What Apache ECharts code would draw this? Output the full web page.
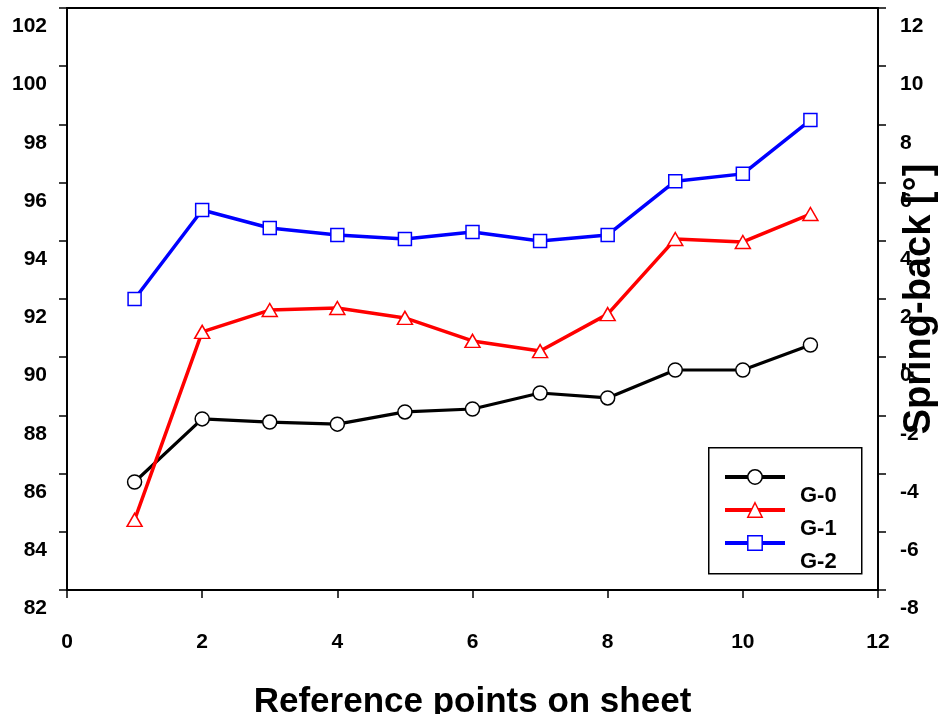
<!DOCTYPE html>
<html><head><meta charset="utf-8">
<script src="https://cdn.jsdelivr.net/npm/echarts@6/dist/echarts.min.js"></script>
<style>html,body{margin:0;padding:0;background:#fff}#c{width:943px;height:714px}</style>
</head><body><div id="c"></div>
<script>
const xPoints = [1,2,3,4,5,6,7,8,9,10,11];
const g0 = [85.71,87.88,87.77,87.70,88.12,88.22,88.77,88.60,89.56,89.56,90.42];
const g1 = [84.41,90.87,91.62,91.69,91.35,90.56,90.21,91.48,94.06,93.96,94.92];
const g2 = [92.00,95.06,94.44,94.20,94.06,94.30,93.99,94.20,96.05,96.30,98.15];
const seriesNames = ['G-0','G-1','G-2'];
const xTitle = 'Reference points on sheet';
const yRightTitle = 'Spring-back [°]';

const FONT = 'Liberation Sans';
const chart = echarts.init(document.getElementById('c'), null, {renderer:'canvas'});
const pair = arr => xPoints.map((x,i)=>[x,arr[i]]);
const lbl = {fontFamily:FONT,fontWeight:'bold',fontSize:21,color:'#000'};
const axLine = {show:true,onZero:false,lineStyle:{color:'#000',width:1.8}};
const tick = {show:true,length:8,inside:false,lineStyle:{color:'#000',width:1.5}};

const legendTops = [469,502,535];
const legends = seriesNames.map((n,i)=>({orient:'vertical',left:723,top:legendTops[i],padding:0,
  itemWidth:60,itemHeight:18,data:[n],
  lineStyle:{width:4},
  itemStyle:{borderWidth:1.5},
  formatter: name => '{t|' + name + '}',
  textStyle:{fontFamily:FONT,fontWeight:'bold',fontSize:22,color:'#000',
    rich:{t:{fontFamily:FONT,fontWeight:'bold',fontSize:22,color:'#000',padding:[38,0,0,10]}}}}));

chart.setOption({
  animation:false,
  backgroundColor:'#fff',
  grid:{left:67,right:65,top:8,bottom:124,show:true,borderColor:'#000',borderWidth:1.8,
    backgroundColor:'transparent',containLabel:false,outerBoundsMode:'none'},
  xAxis:{type:'value',min:0,max:12,interval:2,
    axisLine:axLine,axisTick:tick,splitLine:{show:false},
    axisLabel:Object.assign({margin:42},lbl),
    name:xTitle,nameLocation:'middle',nameGap:95,nameMoveOverlap:false,
    nameTextStyle:{fontFamily:FONT,fontWeight:'bold',fontSize:35,color:'#000'}},
  yAxis:[
    {type:'value',min:82,max:102,interval:2,position:'left',
      axisLine:axLine,axisTick:tick,splitLine:{show:false},
      axisLabel:Object.assign({margin:20,verticalAlign:'top',padding:[8,0,0,0]},lbl)},
    {type:'value',min:-8,max:12,interval:2,position:'right',
      axisLine:axLine,axisTick:tick,splitLine:{show:false},
      axisLabel:Object.assign({margin:22,verticalAlign:'top',padding:[8,0,0,0]},lbl),
      name:yRightTitle,nameLocation:'middle',nameGap:23,nameRotate:90,nameMoveOverlap:false,
      nameTextStyle:{fontFamily:FONT,fontWeight:'bold',fontSize:38,color:'#000',verticalAlign:'top'}}
  ],
  legend:legends,
  graphic:[{type:'rect',left:708,top:447,shape:{width:153,height:126},
    style:{fill:'#fff',stroke:'#000',lineWidth:1.5},z:-1}],
  series:[
    {name:seriesNames[0],type:'line',data:pair(g0),symbol:'circle',symbolSize:14,
      lineStyle:{color:'#000',width:3.2},itemStyle:{color:'#fff',borderColor:'#000',borderWidth:1.5},color:'#000'},
    {name:seriesNames[1],type:'line',data:pair(g1),symbol:'triangle',symbolSize:[15,13],
      lineStyle:{color:'#ff0000',width:3.5},itemStyle:{color:'#fff',borderColor:'#ff0000',borderWidth:1.5},color:'#ff0000'},
    {name:seriesNames[2],type:'line',data:pair(g2),symbol:'rect',symbolSize:13,
      lineStyle:{color:'#0000ff',width:3.5},itemStyle:{color:'#fff',borderColor:'#0000ff',borderWidth:1.5},color:'#0000ff'}
  ]
});
</script></body></html>
